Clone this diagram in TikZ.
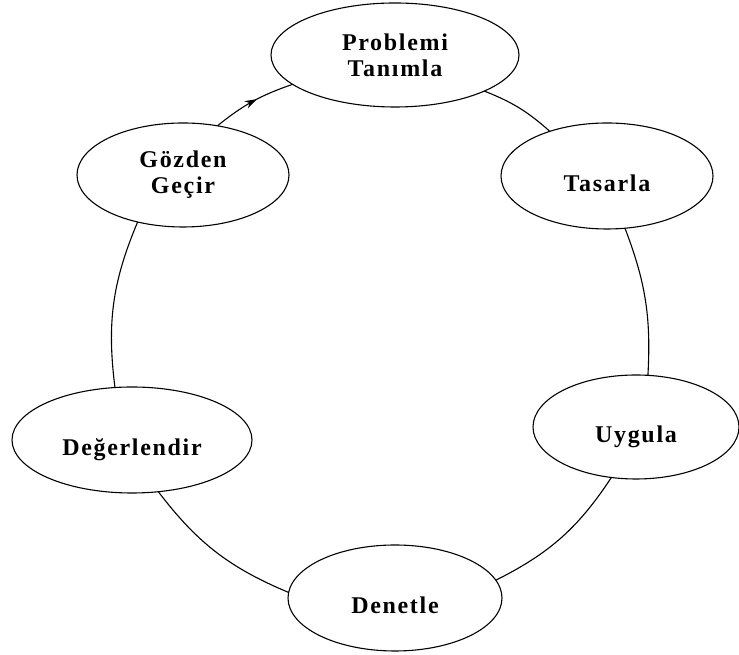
\documentclass[tikz,border=0pt]{standalone}
\usepackage{fontspec}
\newfontfamily\lblfont[LetterSpace=7]{Liberation Serif}
\usetikzlibrary{shapes.geometric,arrows.meta,decorations.markings}
\begin{document}
\begin{tikzpicture}[x=1pt,y=1pt,
  stage/.style={ellipse,draw,line width=1.1pt,inner sep=0pt,outer sep=0pt,align=center,
    font=\lblfont\bfseries\fontsize{24}{26}\selectfont},
  oneline/.style={text height=32pt,text depth=0pt},
  link/.style={line width=1.1pt},
  midarrow/.style={postaction={decorate},decoration={markings,
    mark=at position 0.55 with {\arrow{Stealth[length=12pt,width=8pt]}}}}]
\useasboundingbox (0,0) rectangle (739,655);
\node[stage,minimum width=248pt,minimum height=104pt] (p) at (395,600) {Problemi\\Tanımla};
\node[stage,oneline,minimum width=212pt,minimum height=106pt] (t) at (607,479) {Tasarla};
\node[stage,oneline,minimum width=206pt,minimum height=104pt] (u) at (636,228) {Uygula};
\node[stage,oneline,minimum width=214pt,minimum height=106pt] (d) at (395,57) {Denetle};
\node[stage,oneline,minimum width=240pt,minimum height=106pt] (e) at (132,215) {Değerlendir};
\node[stage,minimum width=212pt,minimum height=104pt] (g) at (183,480) {Gözden\\Geçir};
\draw[link] (p.-22) to[bend left=10] (t.142);
\draw[link] (t.-71) to[bend left=12] (u.77);
\draw[link] (u.-116) to[bend left=15] (d.10);
\draw[link] (d.177) to[bend left=15] (e.-63);
\draw[link] (e.108) to[bend left=15] (g.-134);
\draw[link,midarrow] (g.55) to[bend left=10] (p.-164);
\end{tikzpicture}
\end{document}
